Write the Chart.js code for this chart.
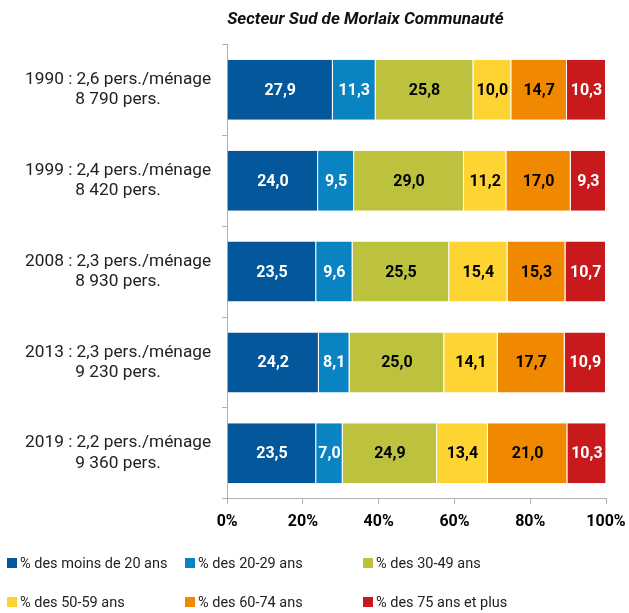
<!DOCTYPE html>
<html>
<head>
<meta charset="utf-8">
<script src="https://cdn.jsdelivr.net/npm/chart.js@4/dist/chart.umd.min.js"></script>
<style>
  html, body { margin: 0; padding: 0; background: #fff; }
  #wrap { width: 629px; height: 613px; }
</style>
</head>
<body>
<div id="wrap"><canvas id="myChart" width="629" height="613"></canvas></div>
<script>
// data
let categories = [
    ["1990 : 2,6 pers./ménage", "8 790 pers."],
    ["1999 : 2,4 pers./ménage", "8 420 pers."],
    ["2008 : 2,3 pers./ménage", "8 930 pers."],
    ["2013 : 2,3 pers./ménage", "9 230 pers."],
    ["2019 : 2,2 pers./ménage", "9 360 pers."]
];
let seriesNames = [
    "% des moins de 20 ans",
    "% des 20-29 ans",
    "% des 30-49 ans",
    "% des 50-59 ans",
    "% des 60-74 ans",
    "% des 75 ans et plus"
];
let moins20 = [27.9, 24.0, 23.5, 24.2, 23.5];
let ans20_29 = [11.3, 9.5, 9.6, 8.1, 7.0];
let ans30_49 = [25.8, 29.0, 25.5, 25.0, 24.9];
let ans50_59 = [10.0, 11.2, 15.4, 14.1, 13.4];
let ans60_74 = [14.7, 17.0, 15.3, 17.7, 21.0];
let ans75plus = [10.3, 9.3, 10.7, 10.9, 10.3];
let xTicks = [0, 20, 40, 60, 80, 100];

let colors = ["#03579a", "#0a83c2", "#bcc23d", "#fed432", "#f08800", "#c8191c"];
let labelColors = ["#fff", "#fff", "#000", "#000", "#000", "#fff"];
let allSeries = [moins20, ans20_29, ans30_49, ans50_59, ans60_74, ans75plus];

var FONT = "Roboto";

// value labels inside each segment
var valueLabels = {
    id: "valueLabels",
    afterDatasetsDraw: function(chart) {
        var ctx = chart.ctx;
        ctx.save();
        ctx.font = "bold 16px " + FONT;
        ctx.textAlign = "center";
        ctx.textBaseline = "middle";
        chart.data.datasets.forEach(function(ds, i) {
            var meta = chart.getDatasetMeta(i);
            meta.data.forEach(function(bar, j) {
                var p = bar.getCenterPoint();
                ctx.fillStyle = labelColors[i];
                ctx.fillText(ds.data[j].toFixed(1).replace(".", ","), p.x, p.y + 1);
            });
        });
        ctx.restore();
    }
};

// legend laid out as a 3 x 2 grid
var gridLegend = {
    id: "gridLegend",
    afterDraw: function(chart) {
        var ctx = chart.ctx;
        var colX = [7, 185, 363];
        var rowY = [563, 602];
        ctx.save();
        ctx.font = "14.5px " + FONT;
        ctx.textBaseline = "middle";
        ctx.textAlign = "left";
        chart.data.datasets.forEach(function(ds, i) {
            var x = colX[i % 3];
            var y = rowY[Math.floor(i / 3)];
            ctx.fillStyle = ds.backgroundColor;
            ctx.fillRect(x, y - 5, 10, 10);
            ctx.fillStyle = "#222";
            ctx.fillText(ds.label, x + 13, y + 1);
        });
        ctx.restore();
    }
};

function generateChart() {
    var datasets = [];
    for (var i = 0; i < allSeries.length; i++) {
        datasets.push({
            label: seriesNames[i],
            data: allSeries[i],
            backgroundColor: colors[i],
            borderColor: "rgba(255,255,255,0.6)",
            borderWidth: {top: 0, bottom: 0, left: 0, right: 1},
            borderSkipped: false,
            barPercentage: 0.66,
            categoryPercentage: 1.0
        });
    }

    var ctx = document.getElementById("myChart").getContext("2d");
    var myChart = new Chart(ctx, {
        type: "bar",
        data: {
            labels: categories,
            datasets: datasets
        },
        options: {
            indexAxis: "y",
            responsive: false,
            animation: false,
            layout: {
                padding: {top: 0, right: 15, bottom: 72, left: 14}
            },
            plugins: {
                legend: {display: false},
                tooltip: {enabled: false},
                title: {
                    display: true,
                    text: "Secteur Sud de Morlaix Communauté",
                    align: "start",
                    fullSize: false,
                    color: "#111",
                    font: {family: FONT, size: 17, weight: "bold", style: "italic"},
                    padding: {top: 10, bottom: 14}
                }
            },
            scales: {
                x: {
                    stacked: true,
                    min: 0,
                    max: 100,
                    afterBuildTicks: function(axis) {
                        axis.ticks = xTicks.map(function(v) { return {value: v}; });
                    },
                    afterFit: function(axis) {
                        // let the last label run into the right margin
                        axis.paddingRight = 23;
                    },
                    grid: {
                        drawOnChartArea: false,
                        drawTicks: true,
                        tickLength: 5,
                        color: "#b0b0b0"
                    },
                    border: {display: true, color: "#b0b0b0", width: 1},
                    ticks: {
                        color: "#000",
                        padding: 9,
                        font: {family: FONT, size: 16, weight: "bold"},
                        callback: function(v) { return v + "%"; }
                    }
                },
                y: {
                    stacked: true,
                    grid: {
                        offset: true,
                        drawOnChartArea: false,
                        drawTicks: true,
                        tickLength: 5,
                        color: "#b0b0b0"
                    },
                    border: {display: true, color: "#b0b0b0", width: 1},
                    ticks: {
                        color: "#222",
                        padding: 11,
                        crossAlign: "center",
                        font: {family: FONT, size: 17.3, lineHeight: 1.18}
                    }
                }
            }
        },
        plugins: [valueLabels, gridLegend]
    });
}

document.addEventListener("DOMContentLoaded", function() {
    generateChart();
});
</script>
</body>
</html>
